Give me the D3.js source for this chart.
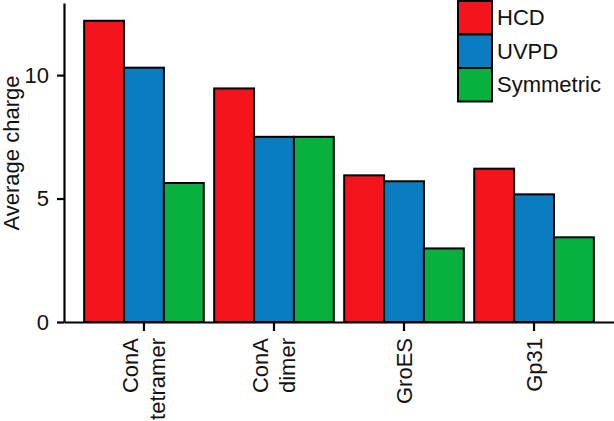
<!DOCTYPE html>
<html>
<head>
<meta charset="utf-8">
<script src="https://cdn.jsdelivr.net/npm/d3@7"></script>
<style>
  body { margin: 0; background: #fff; }
  svg text { font-family: "Liberation Sans", Arial, Helvetica, sans-serif; fill: #111; }
</style>
</head>
<body>
<div id="chart"></div>
<script>
const categories = [["ConA", "tetramer"], ["ConA", "dimer"], ["GroES"], ["Gp31"]];
const series = ["HCD", "UVPD", "Symmetric"];
const hcd = [12.2, 9.46, 5.94, 6.21];
const uvpd = [10.3, 7.5, 5.7, 5.17];
const symmetric = [5.63, 7.5, 2.98, 3.43];
const yTicks = [0, 5, 10];
const colors = ["#f5141c", "#0a7dc0", "#08b13e"];

const values = [hcd, uvpd, symmetric];
const width = 614, height = 421;

const svg = d3.select("#chart").append("svg")
    .attr("width", width).attr("height", height);

const x0 = d3.scaleBand()
    .domain(d3.range(categories.length))
    .range([64, 614])
    .paddingInner(0.08)
    .paddingOuter(0.155);

const x1 = d3.scaleBand()
    .domain(series)
    .range([0, x0.bandwidth()]);

const y = d3.scaleLinear()
    .domain([0, 12.92])
    .range([322, 3]);

// bars
categories.forEach((c, i) => {
    const g = svg.append("g").attr("transform", `translate(${x0(i)},0)`);
    g.selectAll("rect")
        .data(series.map((s, k) => ({ s, v: values[k][i], k })))
        .enter().append("rect")
        .attr("x", d => x1(d.s))
        .attr("y", d => y(d.v))
        .attr("width", x1.bandwidth())
        .attr("height", d => y(0) - y(d.v))
        .attr("fill", d => colors[d.k])
        .attr("stroke", "#000")
        .attr("stroke-width", 2);
});

// y axis
const yAxis = svg.append("g")
    .attr("transform", "translate(64,0)")
    .call(d3.axisLeft(y).tickValues(yTicks).tickSize(7).tickPadding(8).tickSizeOuter(0));
yAxis.select(".domain").attr("stroke-width", 2.2);
yAxis.selectAll(".tick line").attr("stroke-width", 2.2);
yAxis.selectAll("text").style("font-size", "22px").attr("fill", "#111");

// x axis
const xAxis = svg.append("g")
    .attr("transform", "translate(0,322)")
    .call(d3.axisBottom(x0).tickSize(9).tickSizeOuter(0).tickFormat(""));
xAxis.select(".domain").attr("stroke-width", 2.2);
xAxis.selectAll(".tick line").attr("stroke-width", 2.2);

// x labels, rotated
categories.forEach((lines, i) => {
    const cx = x0(i) + x0.bandwidth() / 2;
    const n = lines.length;
    lines.forEach((t, j) => {
        const off = n === 1 ? 0 : (j - (n - 1) / 2) * 27;
        svg.append("text")
            .attr("transform", `translate(${cx + off},338) rotate(-90)`)
            .attr("text-anchor", "end")
            .attr("dy", "0.35em")
            .style("font-size", "22px")
            .text(t);
    });
});

// y label
svg.append("text")
    .attr("transform", "translate(11,153) rotate(-90)")
    .attr("text-anchor", "middle")
    .attr("dy", "0.35em")
    .style("font-size", "22px")
    .text("Average charge");

// legend
const legend = svg.append("g").attr("transform", "translate(458,1)");
series.forEach((s, k) => {
    legend.append("rect")
        .attr("x", 0).attr("y", k * 33.5)
        .attr("width", 34).attr("height", 33.5)
        .attr("fill", colors[k])
        .attr("stroke", "#000")
        .attr("stroke-width", 2);
    legend.append("text")
        .attr("x", 39).attr("y", k * 33.5 + 16.5)
        .attr("dy", "0.35em")
        .style("font-size", "22px")
        .text(s);
});
</script>
</body>
</html>
